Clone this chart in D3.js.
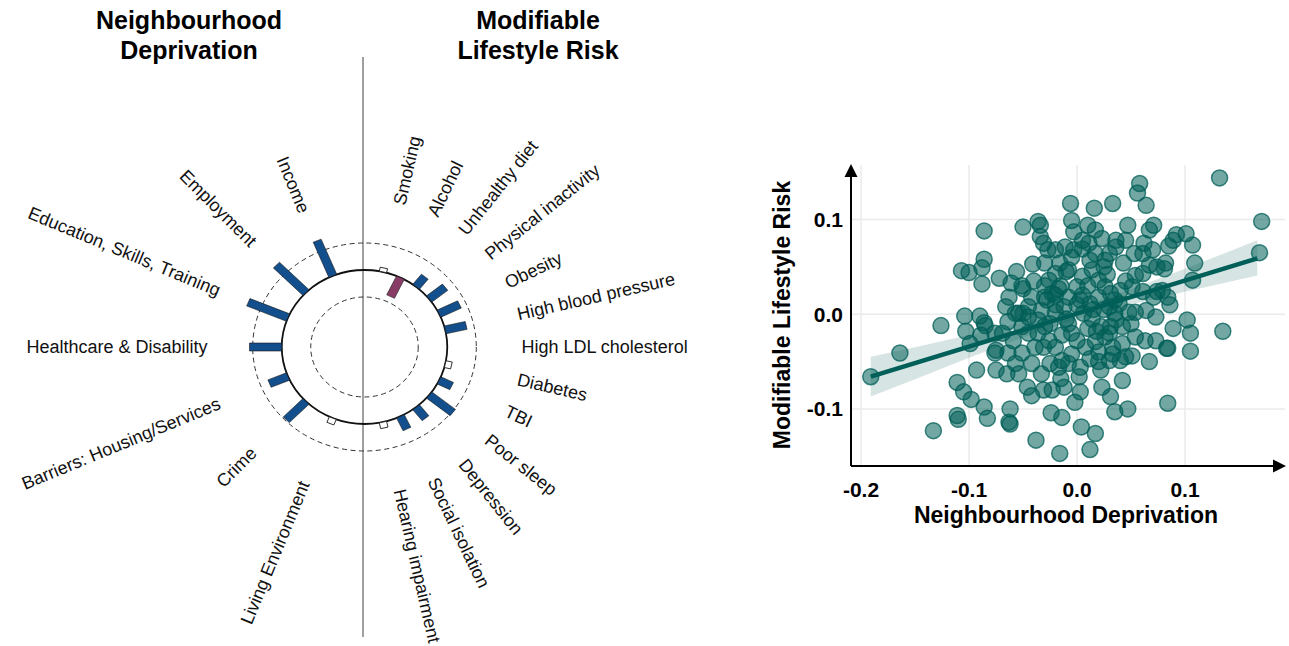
<!DOCTYPE html>
<html>
<head>
<meta charset="utf-8">
<script src="https://d3js.org/d3.v7.min.js"></script>
<style>
  body { margin: 0; background: #fff; }
  text { font-family: "Liberation Sans", Arial, Helvetica, sans-serif; }
</style>
</head>
<body>
<script>
// ---- radial chart data ----
const deprivCats = ["Income", "Employment", "Education, Skills, Training", "Healthcare & Disability",
  "Barriers: Housing/Services", "Crime", "Living Environment"];
const deprivVals = [0.141, 0.144, 0.148, 0.111, 0.069, 0.096, 0.022];
const deprivSig = [1, 1, 1, 1, 1, 1, 0];

const lifeCats = ["Smoking", "Alcohol", "Unhealthy diet", "Physical inactivity", "Obesity",
  "High blood pressure", "High LDL cholesterol", "Diabetes", "TBI", "Poor sleep", "Depression",
  "Social isolation", "Hearing impairment"];
const lifeVals = [0.015, -0.078, 0.048, 0.070, 0.078, 0.074, null, 0.022, 0.048, 0.104, 0.052, 0.052, 0.022];
const lifeSig = [0, 1, 1, 1, 1, 1, 0, 0, 1, 1, 1, 1, 0];

// ---- scatter data ----
const devX = [0.132,0.171,0.169,0.135,0.084,-0.191,-0.164,-0.126,-0.133,-0.111,-0.110,-0.086,-0.107,-0.100,-0.086,-0.088,-0.088,-0.104,-0.103,-0.099,
  -0.090,-0.086,-0.085,-0.093,-0.111,-0.105,-0.098,-0.086,-0.083,-0.062,-0.063,-0.062,-0.038,-0.016,0.012,0.004,0.017,-0.024,-0.014,-0.002,
  0.003,0.035,0.047,0.042,0.031,0.023,0.067,0.051,0.063,0.073,0.083,0.084,0.102,0.105,0.105,0.089,0.086,0.084,0.107,0.109,
  0.107,0.101,0.092,0.085,0.082,0.071,0.067,0.070,0.064,0.056,0.058,0.047,0.033,0.016,-0.006,0.010,-0.005,-0.003,-0.036,-0.034,
  -0.050,-0.034,-0.031,-0.027,-0.041,-0.030,-0.056,-0.072,-0.061,-0.051,-0.050,-0.063,-0.066,-0.054,-0.050,-0.064,-0.069,-0.075,-0.064,-0.051,
  -0.042,-0.057,-0.075,-0.065,-0.054,-0.046,-0.042,-0.031,-0.023,-0.012,-0.015,-0.033,-0.025,-0.008,0.003,0.012,0.022,0.030,0.033,0.040,
  0.042,0.050,0.054,0.048,0.035,0.030,0.040,0.051,0.061,0.071,0.074,0.061,0.067,0.074,0.061,0.053,0.043,0.036,0.030,0.023,
  0.036,0.026,0.017,0.011,0.005,-0.003,-0.011,-0.020,-0.016,-0.020,-0.026,-0.023,-0.030,-0.033,-0.036,-0.030,-0.036,-0.026,-0.020,-0.014,
  -0.008,-0.012,-0.008,0.000,0.005,0.014,0.020,0.026,0.020,0.012,0.006,0.014,0.022,0.026,0.017,0.008,0.000,0.031,0.036,0.039,
  0.031,-0.014,0.002,-0.005,-0.039,-0.045,-0.051,-0.059,-0.045,-0.042,0.079,0.089,0.062,0.045,0.017,0.005,-0.045,0.064,0.073,0.054,
  0.012,-0.008,-0.028,-0.020,0.003,0.042,0.054,0.033,-0.017,-0.076,-0.089,-0.076,0.081,-0.017,-0.031,-0.057,
  -0.010,0.010,0.025,-0.020,0.018,-0.005,0.045,-0.040,0.000,0.028,
  -0.020,0.005,0.015,0.030,0.020,-0.015,-0.025,0.010,0.035,-0.005,0.025,-0.030,0.045,0.020,-0.010];
const lifeY = [0.144,0.098,0.065,-0.018,-0.094,-0.066,-0.041,-0.012,-0.123,-0.107,-0.111,0.088,0.046,0.044,0.058,0.049,0.032,-0.002,-0.018,-0.031,
  -0.002,-0.009,-0.012,-0.059,-0.072,-0.082,-0.090,-0.098,-0.110,-0.100,-0.114,-0.116,-0.133,-0.147,-0.143,-0.119,-0.126,-0.104,-0.109,-0.093,
  -0.082,-0.103,-0.100,-0.070,-0.087,-0.077,-0.050,-0.044,-0.028,-0.028,-0.036,-0.036,-0.006,-0.020,-0.039,-0.015,0.010,0.018,0.036,0.054,
  0.073,0.085,0.084,0.072,0.054,0.094,0.089,0.068,0.115,0.128,0.138,0.094,0.117,0.112,0.117,0.094,0.099,0.087,0.098,0.094,
  0.092,0.082,0.075,0.068,0.053,0.054,0.045,0.038,0.033,0.030,0.027,0.018,0.008,0.001,0.001,-0.008,-0.020,-0.038,-0.041,-0.041,
  -0.052,-0.052,-0.059,-0.063,-0.063,-0.077,-0.086,-0.080,-0.080,-0.077,-0.068,-0.063,-0.052,-0.052,-0.056,-0.047,-0.059,-0.049,-0.042,-0.049,
  -0.013,-0.010,0.002,0.002,0.001,0.008,0.025,0.029,0.024,0.018,0.024,0.043,0.052,0.050,0.064,0.064,0.054,0.071,0.064,0.080,
  0.078,0.057,0.064,0.075,0.069,0.068,0.071,0.068,0.054,0.043,0.036,0.022,0.018,0.004,-0.006,-0.013,-0.020,-0.028,-0.035,-0.022,
  -0.010,0.008,0.018,0.029,0.040,0.047,0.036,0.029,0.018,0.011,0.001,-0.005,-0.013,-0.024,-0.029,-0.035,-0.028,-0.013,-0.006,0.011,
  0.022,-0.049,-0.066,-0.042,-0.035,-0.020,-0.013,-0.028,0.008,0.018,0.025,0.078,0.075,0.078,0.089,0.078,-0.003,0.004,-0.003,0.041,
  0.057,0.047,0.015,0.002,0.015,-0.031,-0.024,-0.035,-0.056,-0.041,-0.022,-0.020,0.048,0.027,-0.035,0.001,
  -0.005,0.030,0.005,0.010,-0.018,0.060,0.035,0.035,0.010,0.042,
  0.020,0.020,0.005,-0.020,-0.040,0.030,-0.010,-0.015,0.015,-0.020,0.050,0.030,-0.045,-0.050,0.045];

// fitted line and 95% band
const fitX = [-0.191, 0.167];
const fitY = [-0.066, 0.059];
const ciX = [-0.191, -0.15, -0.1, -0.05, 0.0, 0.05, 0.1, 0.167];
const ciLo = [-0.087, -0.0686, -0.0461, -0.0246, -0.0051, 0.0104, 0.0238, 0.0408];
const ciHi = [-0.045, -0.0348, -0.0219, -0.0086, 0.0069, 0.0264, 0.048, 0.078];

const xTicks = [-0.2, -0.1, 0.0, 0.1];
const yTicks = [-0.1, 0.0, 0.1];

const width = 1289, height = 646;
const svg = d3.select("body").append("svg")
  .attr("width", width)
  .attr("height", height);

// ================= radial chart =================
const cx = 364.5, cy = 347, sx = 1.075;
const rScale = d3.scaleLinear().domain([0, 0.1]).range([77, 104]);
const blue = "#124f8c", purple = "#873d66";

const angL = d3.scalePoint().domain(deprivCats).range([0, 180]).padding(1);
const angR = d3.scalePoint().domain(lifeCats).range([0, 180]).padding(1);

function pt(r, deg, side) {
  const a = deg * Math.PI / 180;
  return [cx + side * sx * r * Math.sin(a), cy - r * Math.cos(a)];
}

function barPoly(v, deg, side, w) {
  const a = deg * Math.PI / 180;
  const r0 = rScale(0), r1 = rScale(v);
  const ux = side * Math.sin(a), uy = -Math.cos(a);
  const tx = side * Math.cos(a), ty = Math.sin(a);
  const c = [[r0, -w / 2], [r1, -w / 2], [r1, w / 2], [r0, w / 2]].map(([r, t]) =>
    [cx + sx * (r * ux + t * tx), cy + r * uy + t * ty]);
  return c.map(p => p.join(",")).join(" ");
}

const rad = svg.append("g");

// vertical divider
rad.append("line")
  .attr("x1", 363).attr("x2", 363).attr("y1", 57).attr("y2", 637)
  .attr("stroke", "#808080").attr("stroke-width", 1.5);

// reference rings
[-0.1, 0.1].forEach(v => {
  rad.append("ellipse")
    .attr("cx", cx).attr("cy", cy)
    .attr("rx", rScale(v) * sx).attr("ry", rScale(v))
    .attr("fill", "none").attr("stroke", "#333")
    .attr("stroke-width", 1).attr("stroke-dasharray", "5,3.5");
});
rad.append("ellipse")
  .attr("cx", cx).attr("cy", cy)
  .attr("rx", rScale(0) * sx).attr("ry", rScale(0))
  .attr("fill", "none").attr("stroke", "#111").attr("stroke-width", 1.8);

function drawSide(cats, vals, sig, ang, side) {
  cats.forEach((c, i) => {
    const v = vals[i];
    if (v === null) return;
    const isSig = sig[i] === 1;
    rad.append("polygon")
      .attr("points", barPoly(v, ang(c), side, isSig ? 8 : 7))
      .attr("fill", isSig ? (v < 0 ? purple : blue) : "#fff")
      .attr("stroke", "#1a1a1a")
      .attr("stroke-width", isSig ? 0.6 : 0.9);
  });
  cats.forEach(c => {
    const deg = ang(c);
    const [lx, ly] = pt(146, deg, side);
    const rot = side > 0 ? deg - 90 : 90 - deg;
    rad.append("text")
      .attr("transform", `translate(${lx},${ly}) rotate(${rot})`)
      .attr("text-anchor", side > 0 ? "start" : "end")
      .attr("dominant-baseline", "central")
      .attr("font-size", 18)
      .attr("fill", "#111")
      .text(c);
  });
}
drawSide(deprivCats, deprivVals, deprivSig, angL, -1);
drawSide(lifeCats, lifeVals, lifeSig, angR, 1);

// titles
[["Neighbourhood", "Deprivation", 189], ["Modifiable", "Lifestyle Risk", 538]].forEach(([a, b, x]) => {
  const t = rad.append("text").attr("text-anchor", "middle")
    .attr("font-size", 25).attr("font-weight", "bold").attr("fill", "#000");
  t.append("tspan").attr("x", x).attr("y", 29).text(a);
  t.append("tspan").attr("x", x).attr("y", 59).text(b);
});

// ================= scatter =================
const x = d3.scaleLinear().domain([-0.2093, 0.1926]).range([851, 1285]);
const y = d3.scaleLinear().domain([-0.1603, 0.1576]).range([466, 165]);
const sc = svg.append("g");

// grid
sc.selectAll(".vg").data(xTicks).enter().append("line")
  .attr("x1", d => x(d)).attr("x2", d => x(d))
  .attr("y1", y.range()[1]).attr("y2", y.range()[0])
  .attr("stroke", "#ebebeb").attr("stroke-width", 1.5);
sc.selectAll(".hg").data(yTicks).enter().append("line")
  .attr("x1", x.range()[0]).attr("x2", x.range()[1])
  .attr("y1", d => y(d)).attr("y2", d => y(d))
  .attr("stroke", "#ebebeb").attr("stroke-width", 1.5);

const teal = "#005f58";
const pts = devX.map((d, i) => [d, lifeY[i]]);
sc.selectAll("circle").data(pts).enter().append("circle")
  .attr("cx", d => x(d[0])).attr("cy", d => y(d[1]))
  .attr("r", 8)
  .attr("fill", teal).attr("fill-opacity", 0.55)
  .attr("stroke", teal).attr("stroke-opacity", 0.75).attr("stroke-width", 1.5);

// confidence band + fit
const band = ciX.map((d, i) => [d, ciLo[i], ciHi[i]]);
sc.append("path")
  .attr("d", d3.area().x(d => x(d[0])).y0(d => y(d[1])).y1(d => y(d[2]))(band))
  .attr("fill", teal).attr("fill-opacity", 0.16);
sc.append("path")
  .attr("d", d3.line().x(d => x(d[0])).y(d => y(d[1]))(fitX.map((d, i) => [d, fitY[i]])))
  .attr("stroke", teal).attr("stroke-width", 4.5).attr("fill", "none");

// axes with arrows
const x0 = x.range()[0], yb = y.range()[0];
sc.append("line").attr("x1", x0).attr("x2", 1276).attr("y1", yb).attr("y2", yb)
  .attr("stroke", "#000").attr("stroke-width", 2);
sc.append("line").attr("x1", x0).attr("x2", x0).attr("y1", yb).attr("y2", 174)
  .attr("stroke", "#000").attr("stroke-width", 2);
sc.append("path").attr("d", `M1286,${yb} L1273,${yb - 6.5} L1273,${yb + 6.5} Z`).attr("fill", "#000");
sc.append("path").attr("d", `M${x0},164 L${x0 - 6.5},177 L${x0 + 6.5},177 Z`).attr("fill", "#000");

// tick labels
sc.selectAll(".xt").data(xTicks).enter().append("text")
  .attr("x", d => x(d)).attr("y", 497)
  .attr("text-anchor", "middle").attr("font-size", 21).attr("font-weight", "bold")
  .text(d => d3.format(".1f")(d).replace("−", "-"));
sc.selectAll(".yt").data(yTicks).enter().append("text")
  .attr("x", 843).attr("y", d => y(d))
  .attr("text-anchor", "end").attr("dominant-baseline", "central")
  .attr("font-size", 21).attr("font-weight", "bold")
  .text(d => d3.format(".1f")(d).replace("−", "-"));

// axis titles
sc.append("text").attr("x", 1066).attr("y", 523)
  .attr("text-anchor", "middle").attr("font-size", 23).attr("font-weight", "bold")
  .text("Neighbourhood Deprivation");
sc.append("text").attr("transform", "translate(790,315) rotate(-90)")
  .attr("text-anchor", "middle").attr("font-size", 23).attr("font-weight", "bold")
  .text("Modifiable Lifestyle Risk");
</script>
</body>
</html>
